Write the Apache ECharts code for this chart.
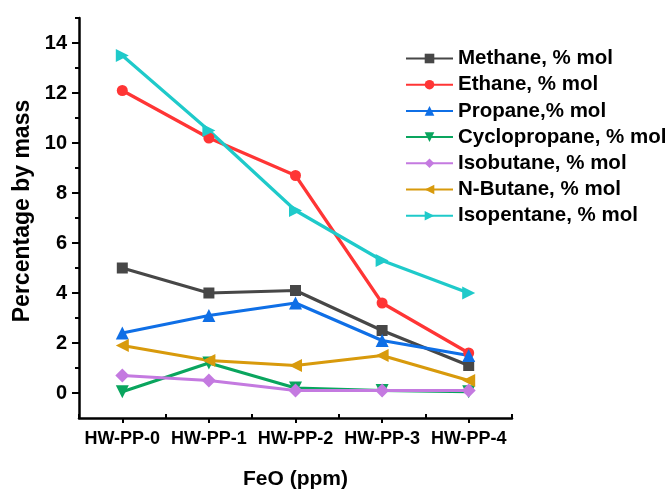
<!DOCTYPE html>
<html>
<head>
<meta charset="utf-8">
<script src="https://cdn.jsdelivr.net/npm/echarts@6/dist/echarts.min.js"></script>
<style>
  html, body { margin: 0; padding: 0; background: #fff; }
  #chart { width: 670px; height: 495px; }
</style>
</head>
<body>
<div id="chart"></div>
<script>
// Gas composition of HW-PP samples versus FeO content
const categories = ['HW-PP-0', 'HW-PP-1', 'HW-PP-2', 'HW-PP-3', 'HW-PP-4'];

const methane      = [5.0, 4.0, 4.1, 2.5, 1.1];
const ethane       = [12.1, 10.2, 8.7, 3.6, 1.6];
const propane      = [2.4, 3.1, 3.6, 2.1, 1.5];
const cyclopropane = [0.05, 1.2, 0.2, 0.1, 0.05];
const isobutane    = [0.7, 0.5, 0.1, 0.1, 0.1];
const nButane      = [1.9, 1.3, 1.1, 1.5, 0.5];
const isopentane   = [13.5, 10.5, 7.3, 5.3, 4.0];

const yMajorTicks = [0, 2, 4, 6, 8, 10, 12, 14];
const yMinorTicks = [1, 3, 5, 7, 9, 11, 13, 15];

const seriesDefs = [
  { name: 'Methane, % mol',      data: methane,      color: '#474747', symbol: 'rect',     size: 11, rotate: 0 },
  { name: 'Ethane, % mol',       data: ethane,       color: '#ff3535', symbol: 'circle',   size: 11, rotate: 0 },
  { name: 'Propane,% mol',       data: propane,      color: '#0f6fe6', symbol: 'triangle', size: 13, rotate: 0 },
  { name: 'Cyclopropane, % mol', data: cyclopropane, color: '#0aa55e', symbol: 'triangle', size: 13, rotate: 180 },
  { name: 'Isobutane, % mol',    data: isobutane,    color: '#c47ae0', symbol: 'diamond',  size: 14, rotate: 0 },
  { name: 'N-Butane, % mol',     data: nButane,      color: '#d89a0c', symbol: 'triangle', size: 13, rotate: 90 },
  { name: 'Isopentane, % mol',   data: isopentane,   color: '#1fcaca', symbol: 'triangle', size: 13, rotate: -90 }
];

const font = 'Liberation Sans, Arial, sans-serif';
const chart = echarts.init(document.getElementById('chart'));

const axisLine = { show: true, onZero: false, lineStyle: { color: '#000', width: 2.5 } };

chart.setOption({
  animation: false,
  backgroundColor: '#fff',
  grid: { left: 79, right: 158, top: 18, bottom: 73 },
  legend: {
    orient: 'vertical',
    left: 400,
    top: 43,
    itemWidth: 47,
    itemHeight: 12,
    itemGap: 5.2,
    textStyle: { fontFamily: font, fontWeight: 'bold', fontSize: 20.5, lineHeight: 21, color: '#000' },
    data: seriesDefs.map(d => d.name)
  },
  xAxis: [
    {
      type: 'category',
      data: categories,
      boundaryGap: true,
      axisLine: axisLine,
      axisTick: { show: true, alignWithLabel: true, length: 5, lineStyle: { color: '#000', width: 2 } },
      axisLabel: { fontFamily: font, fontWeight: 'bold', fontSize: 18, color: '#000', margin: 12, interval: 0 },
      name: 'FeO (ppm)',
      nameLocation: 'middle',
      nameGap: 51,
      nameTextStyle: { fontFamily: font, fontWeight: 'bold', fontSize: 21, color: '#000' },
      splitLine: { show: false }
    },
    {
      // short inward ticks between the sample positions
      type: 'category',
      data: categories,
      position: 'bottom',
      boundaryGap: true,
      axisLine: { show: false, onZero: false },
      axisTick: { show: true, inside: true, length: 4, lineStyle: { color: '#000', width: 2 } },
      axisLabel: { show: false },
      splitLine: { show: false }
    }
  ],
  yAxis: [
    {
      type: 'value',
      min: -1,
      max: 15,
      axisLine: axisLine,
      axisTick: { show: true, length: 7, customValues: yMajorTicks, lineStyle: { color: '#000', width: 2 } },
      axisLabel: { customValues: yMajorTicks, fontFamily: font, fontWeight: 'bold', fontSize: 20, color: '#000', margin: 12 },
      splitLine: { show: false },
      name: 'Percentage by mass',
      nameLocation: 'middle',
      nameGap: 44,
      nameTextStyle: { fontFamily: font, fontWeight: 'bold', fontSize: 23, color: '#000', padding: [0, 0, 0, 14] }
    },
    {
      // minor ticks at the odd values
      type: 'value',
      min: -1,
      max: 15,
      position: 'left',
      axisLine: { show: false, onZero: false },
      axisTick: { show: true, length: 4, customValues: yMinorTicks, lineStyle: { color: '#000', width: 2 } },
      axisLabel: { show: false, customValues: yMinorTicks },
      splitLine: { show: false }
    }
  ],
  series: seriesDefs.map(d => ({
    name: d.name,
    type: 'line',
    data: d.data,
    symbol: d.symbol,
    symbolSize: d.size,
    symbolRotate: d.rotate,
    showAllSymbol: true,
    color: d.color,
    lineStyle: { color: d.color, width: 3.2 },
    itemStyle: { color: d.color },
    emphasis: { disabled: true }
  }))
});
</script>
</body>
</html>
